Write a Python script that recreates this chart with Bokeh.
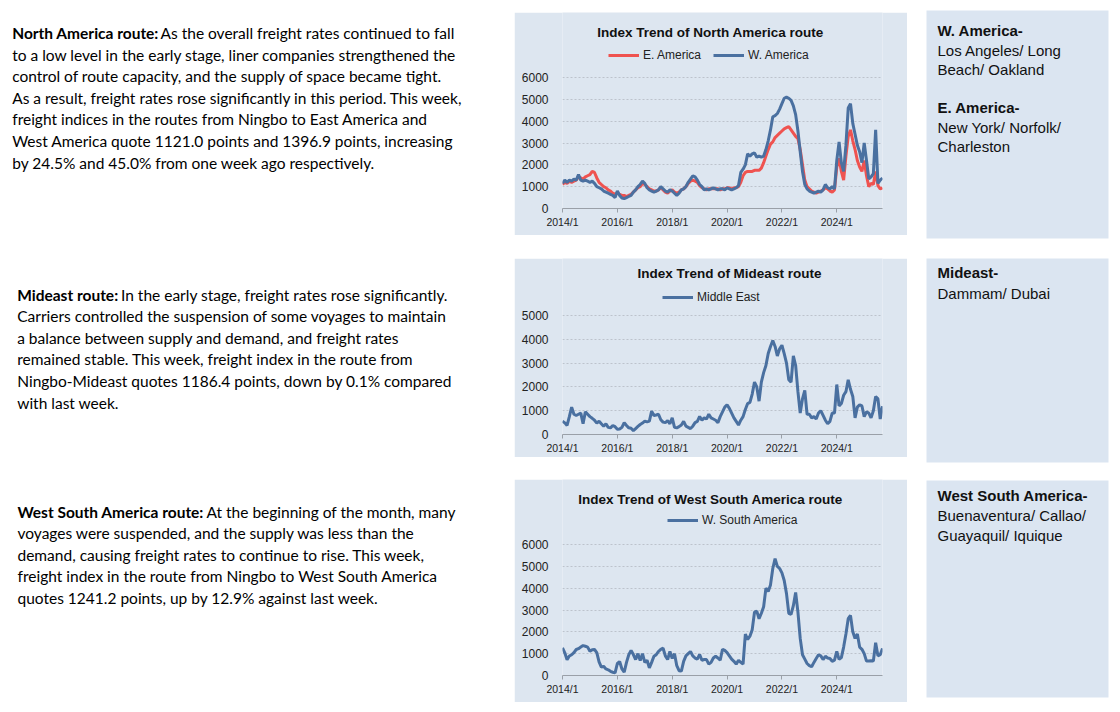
from bokeh.plotting import figure
from bokeh.models import Range1d, FixedTicker, Label, Legend, LegendItem, Spacer
from bokeh.layouts import row, column
from bokeh.embed import file_html
from bokeh.resources import INLINE
from bokeh.core.properties import value

# ---------------- data (monthly readings, 2014/1 .. 2025/9) ----------------
months = list(range(141))
tick_pos = [0, 24, 48, 72, 96, 120]
tick_labels = ["2014/1", "2016/1", "2018/1", "2020/1", "2022/1", "2024/1"]

e_america = [
    1100, 1200, 1150, 1250, 1200, 1250, 1300, 1450, 1400, 1350, 1450, 1500,
    1550, 1700, 1650, 1400, 1200, 1100, 1000, 950, 850, 800, 700, 650,
    700, 650, 600, 600, 550, 600, 650, 750, 850, 950, 1000, 1150,
    1100, 1000, 900, 850, 800, 800, 850, 950, 850, 750, 700, 800,
    850, 750, 700, 750, 850, 900, 1000, 1150, 1250, 1300, 1250, 1200,
    1050, 950, 900, 850, 900, 900, 900, 900, 900, 850, 900, 900,
    950, 950, 900, 950, 950, 1000, 1200, 1500, 1650, 1700, 1700, 1700,
    1750, 1750, 1750, 1850, 2100, 2400, 2700, 2950, 3050, 3250, 3350, 3450,
    3550, 3650, 3700, 3750, 3600, 3450, 3300, 3200, 2700, 2000, 1300, 1000,
    900, 800, 750, 700, 750, 800, 850, 950, 900, 800, 750, 850,
    1900, 2300, 1700, 1300, 2400, 3300, 3600, 3100, 2700, 2200, 1900, 1700,
    2200, 1500, 1000, 1150, 1100, 1700, 1050, 900, 950,
]
w_america = [
    1150, 1300, 1200, 1300, 1250, 1350, 1300, 1550, 1300, 1250, 1300, 1250,
    1200, 1250, 1150, 1000, 950, 900, 800, 750, 700, 650, 600, 500,
    800, 600, 480, 450, 500, 550, 600, 750, 850, 1000, 1100, 1250,
    1150, 950, 850, 800, 750, 800, 850, 1000, 900, 800, 750, 850,
    800, 700, 600, 700, 850, 900, 1000, 1200, 1350, 1500, 1450, 1300,
    1100, 1000, 850, 900, 850, 900, 950, 900, 850, 900, 900, 850,
    950, 900, 850, 900, 950, 1050, 1650, 1800, 2000, 2500, 2400, 2500,
    2550, 2350, 2400, 2350, 2400, 2700, 3100, 3600, 4200, 4250, 4350, 4550,
    4800, 5050, 5100, 5050, 4950, 4700, 4300, 3550, 2600, 1700, 1100, 900,
    800, 750, 700, 750, 800, 750, 850, 1100, 950, 900, 1000, 900,
    2200, 3050, 2100, 1700, 2900, 4600, 4800, 3900, 3400, 2900, 2600, 2100,
    3000, 2200, 1350, 1450, 1600, 3600, 1150, 1300, 1397,
]
middle_east = [
    560, 490, 380, 750, 1150, 850, 800, 850, 900, 450, 950, 850,
    750, 680, 600, 480, 560, 450, 350, 450, 300, 280, 380, 330,
    220, 230, 300, 500, 380, 280, 260, 160, 250, 340, 420, 480,
    560, 530, 560, 980, 800, 820, 850, 620, 520, 500, 580, 450,
    700, 300, 280, 330, 400, 550, 350, 300, 250, 350, 500, 550,
    760, 600, 700, 650, 850, 700, 650, 600, 500, 750, 950, 1150,
    1250, 1100, 900, 700, 550, 400, 600, 750, 1050, 1300, 1350, 1700,
    2200, 2000, 1400, 2200, 2600, 2900, 3400, 3700, 3950, 3700, 3300, 3600,
    3750, 3400, 3000, 2300, 2200, 3300, 2900, 1800, 900, 1500, 1850, 850,
    850, 700, 750, 650, 900, 1000, 800, 600, 450, 550, 900, 900,
    2100, 1200, 1300, 1650, 1800, 2300, 1900, 1600, 700, 1150, 1250, 1200,
    750, 950, 900, 700, 1000, 1600, 1500, 650, 1186,
]
w_south_america = [
    1270, 1040, 720, 890, 950, 1050, 1190, 1230, 1300, 1370, 1340, 1300,
    1110, 1180, 1190, 1050, 620, 380, 420, 300, 260, 190, 150, 120,
    550, 640, 300, 150, 600, 950, 1150, 960, 730, 1000, 680, 1000,
    600, 700, 350, 600, 880, 950, 1100, 1200, 1250, 900, 730, 1100,
    780, 1000, 450, 220, 200, 650, 900, 1000, 1100, 900, 800, 750,
    960, 700, 730, 730, 520, 600, 800, 880, 800, 700, 1200, 1150,
    1050, 900, 750, 650, 520, 700, 600, 520, 1900, 1650, 1800, 2100,
    2900, 2950, 2600, 2850, 3150, 4000, 3850, 4150, 4900, 5350, 5000, 4900,
    4700, 4350, 3750, 2850, 2800, 3200, 3800, 2900, 1700, 950, 750, 550,
    450, 400, 600, 780, 950, 900, 730, 880, 800, 780, 650, 700,
    1100, 740, 820, 1300, 1900, 2600, 2750, 2000, 1700, 1900, 1300, 1200,
    1000, 660, 660, 680, 660, 1500, 900, 950, 1241,
]

# ---------------- styles ----------------
BG = "#dde6f0"
PANEL = "#dbe5f1"
RED = "#ef5350"
BLUE = "#4a70a0"
SANS = "Liberation Sans"
BODY = "Lato"
BODY_SIZE = "15.5px"


def make_chart(title, series, height, frame_h, yticks, span_px, title_x, title_y, leg_x, leg_y):
    y_end = yticks[-1] * frame_h / span_px
    p = figure(width=393, height=height, x_range=Range1d(0, 140), y_range=Range1d(0, y_end),
               min_border_left=48, min_border_right=25, min_border_top=0,
               min_border_bottom=height - frame_h,
               output_backend="svg", toolbar_location=None)
    p.background_fill_color = BG
    p.border_fill_color = BG
    p.outline_line_color = None

    p.xgrid.grid_line_color = None
    p.ygrid.ticker = FixedTicker(ticks=yticks[1:])
    p.ygrid.grid_line_color = "#bcc3cc"
    p.ygrid.grid_line_dash = "2 2"

    p.yaxis.ticker = FixedTicker(ticks=yticks)
    p.yaxis.axis_line_color = None
    p.yaxis.major_tick_line_color = None
    p.yaxis.minor_tick_line_color = None
    p.yaxis.major_label_standoff = 8
    p.yaxis.major_label_text_font_size = "12px"
    p.yaxis.major_label_text_font = SANS
    p.yaxis.major_label_text_color = "#222222"

    p.xaxis.ticker = FixedTicker(ticks=tick_pos)
    p.xaxis.major_label_overrides = dict(zip(tick_pos, tick_labels))
    p.xaxis.axis_line_color = "#9aa0a8"
    p.xaxis.major_tick_line_color = "#9aa0a8"
    p.xaxis.minor_tick_line_color = None
    p.xaxis.major_tick_in = 0
    p.xaxis.major_tick_out = 4
    p.xaxis.major_label_standoff = 3
    p.xaxis.major_label_text_font_size = "10.5px"
    p.xaxis.major_label_text_font = SANS
    p.xaxis.major_label_text_color = "#222222"

    items = []
    for name, vals, color in series:
        r = p.line(months, vals, line_color=color, line_width=3)
        items.append(LegendItem(label=name, renderers=[r]))
    leg = Legend(items=items, location=(leg_x, leg_y), orientation="horizontal",
                 background_fill_alpha=0, border_line_color=None, padding=0, margin=0,
                 spacing=12, glyph_width=31, glyph_height=14, label_height=14,
                 label_standoff=4, label_text_font_size="12px", label_text_font=SANS,
                 label_text_color="#222222")
    p.add_layout(leg)
    p.add_layout(Label(x=title_x, y=title_y, x_units="screen", y_units="screen", text=title,
                       text_align="center", text_baseline="middle", text_font_size="13.5px",
                       text_font_style="bold", text_font=SANS, text_color="#111111"))
    return p


yt6 = [0, 1000, 2000, 3000, 4000, 5000, 6000]
yt5 = [0, 1000, 2000, 3000, 4000, 5000]

c1 = make_chart("Index Trend of North America route",
                [("E. America", e_america, RED), ("W. America", w_america, BLUE)],
                223, 196, yt6, 131, 148, 176, 46, 146)
c2 = make_chart("Index Trend of Mideast route",
                [("Middle East", middle_east, BLUE)],
                199, 176, yt5, 119, 167, 161, 100, 130)
c3 = make_chart("Index Trend of West South America route",
                [("W. South America", w_south_america, BLUE)],
                223, 196, yt6, 131, 148, 176, 105, 148)

# ---------------- left text column ----------------
tf = figure(width=506, height=696, x_range=Range1d(8, 514), y_range=Range1d(704, 8),
            min_border=0, x_axis_location=None, y_axis_location=None,
            output_backend="svg", toolbar_location=None)
tf.grid.visible = False
tf.outline_line_color = None
tf.background_fill_color = "white"
tf.border_fill_color = "white"

paras = [
    (11.7, 32.5, 160, "North America route:", [
        "As the overall freight rates continued to fall",
        "to a low level in the early stage, liner companies strengthened the",
        "control of route capacity, and the supply of space became tight.",
        "As a result, freight rates rose significantly in this period. This week,",
        "freight indices in the routes from Ningbo to East America and",
        "West America quote 1121.0 points and 1396.9 points, increasing",
        "by 24.5% and 45.0% from one week ago respectively."]),
    (16.7, 294, 120.5, "Mideast route:", [
        "In the early stage, freight rates rose significantly.",
        "Carriers controlled the suspension of some voyages to maintain",
        "a balance between supply and demand, and freight rates",
        "remained stable. This week, freight index in the route from",
        "Ningbo-Mideast quotes 1186.4 points, down by 0.1% compared",
        "with last week."]),
    (17, 511, 206, "West South America route:", [
        "At the beginning of the month, many",
        "voyages were suspended, and the supply was less than the",
        "demand, causing freight rates to continue to rise. This week,",
        "freight index in the route from Ningbo to West South America",
        "quotes 1241.2 points, up by 12.9% against last week."]),
]
for x0, y0, xr, lead, lines in paras:
    tf.text(x=[x0], y=[y0], text=[lead], text_font=value(BODY), text_font_size=BODY_SIZE,
            text_font_style="bold", text_baseline="middle", text_color="#000000")
    xs = [xr] + [x0] * (len(lines) - 1)
    ys = [y0 + 21.6 * i for i in range(len(lines))]
    tf.text(x=xs, y=ys, text=lines, text_font=value(BODY), text_font_size=BODY_SIZE,
            text_baseline="middle", text_color="#000000")

# ---------------- right port panels ----------------
pf = figure(width=205, height=696, x_range=Range1d(907, 1112), y_range=Range1d(704, 8),
            min_border=0, x_axis_location=None, y_axis_location=None,
            output_backend="svg", toolbar_location=None)
pf.grid.visible = False
pf.outline_line_color = None
pf.background_fill_color = "white"
pf.border_fill_color = "white"
pf.quad(left=[926, 926, 926], right=[1108, 1108, 1108], top=[10, 258, 480],
        bottom=[238, 462, 697], fill_color=PANEL, line_color=None)

panel_bold = ["W. America-", "E. America-", "Mideast-", "West South America-"]
panel_bold_y = [30, 106.5, 271.5, 495]
panel_reg = ["Los Angeles/ Long", "Beach/ Oakland", "New York/ Norfolk/", "Charleston",
             "Dammam/ Dubai", "Buenaventura/ Callao/", "Guayaquil/ Iquique"]
panel_reg_y = [49.5, 68.5, 126.5, 145.5, 292.5, 515, 535]
pf.text(x=[937] * 4, y=panel_bold_y, text=panel_bold, text_font=value(SANS),
        text_font_size="15px", text_font_style="bold", text_baseline="middle",
        text_color="#111111")
pf.text(x=[937] * 7, y=panel_reg_y, text=panel_reg, text_font=value(SANS),
        text_font_size="15px", text_baseline="middle", text_color="#111111")

charts = column(Spacer(height=4), c1, Spacer(height=23), c2, Spacer(height=22), c3)
inner = row(tf, charts, pf)
layout = column(Spacer(height=8), row(Spacer(width=8), inner))

open("out.html", "w").write(file_html(layout, INLINE))
